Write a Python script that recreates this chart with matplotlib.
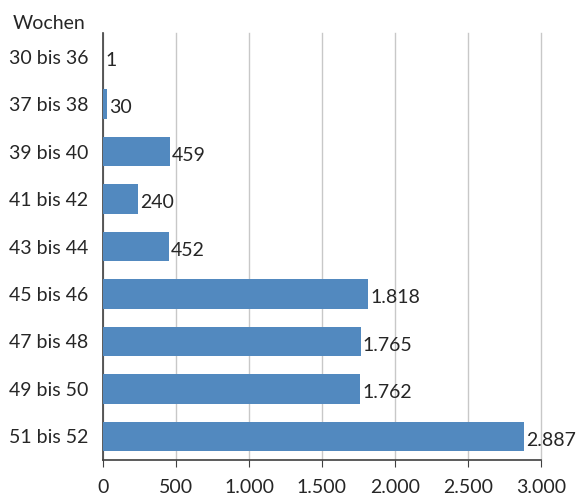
import matplotlib
matplotlib.use("Agg")
import matplotlib.pyplot as plt
from matplotlib.ticker import FuncFormatter

plt.rcParams['font.family'] = ['Lato', 'DejaVu Sans']

weeks = ["30 bis 36", "37 bis 38", "39 bis 40", "41 bis 42", "43 bis 44",
         "45 bis 46", "47 bis 48", "49 bis 50", "51 bis 52"]
counts = [1, 30, 459, 240, 452, 1818, 1765, 1762, 2887]
x_ticks = [0, 500, 1000, 1500, 2000, 2500, 3000]

text_col = "#262626"
bar_col = "#5289BF"


def de_num(v):
    # German thousands separator
    return f"{int(v):,}".replace(",", ".")


fig = plt.figure(figsize=(5.79, 4.97), dpi=100)
ax = fig.add_axes([0.178, 0.0744, 0.756, 0.8592])

pos = list(range(len(weeks)))
ax.barh(pos, counts, height=0.62, color=bar_col, zorder=3)
for p, c in zip(pos, counts):
    ax.text(c + 14, p + 0.08, de_num(c), va="center", ha="left",
            fontsize=14, color=text_col)

ax.set_ylim(len(weeks) - 0.5, -0.5)
ax.set_yticks(pos)
ax.set_yticklabels(weeks, fontsize=14, color=text_col)
ax.tick_params(axis="y", length=0, pad=10.5)

ax.set_xlim(0, 3000)
ax.set_xticks(x_ticks)
ax.xaxis.set_major_formatter(FuncFormatter(lambda v, _: de_num(v)))
ax.tick_params(axis="x", labelsize=14, labelcolor=text_col, length=5,
               direction="out", color="#404040", pad=9)
ax.grid(axis="x", color="#C8C8C8", linewidth=1, zorder=0)
for gl in ax.get_xgridlines():
    gl.set_clip_on(False)

for s in ["top", "right"]:
    ax.spines[s].set_visible(False)
for s in ["left", "bottom"]:
    ax.spines[s].set_color("#404040")
    ax.spines[s].set_linewidth(1.2)

fig.text(0.022, 0.952, "Wochen", fontsize=14, color=text_col, va="center")

fig.savefig("out.png", dpi=100)
